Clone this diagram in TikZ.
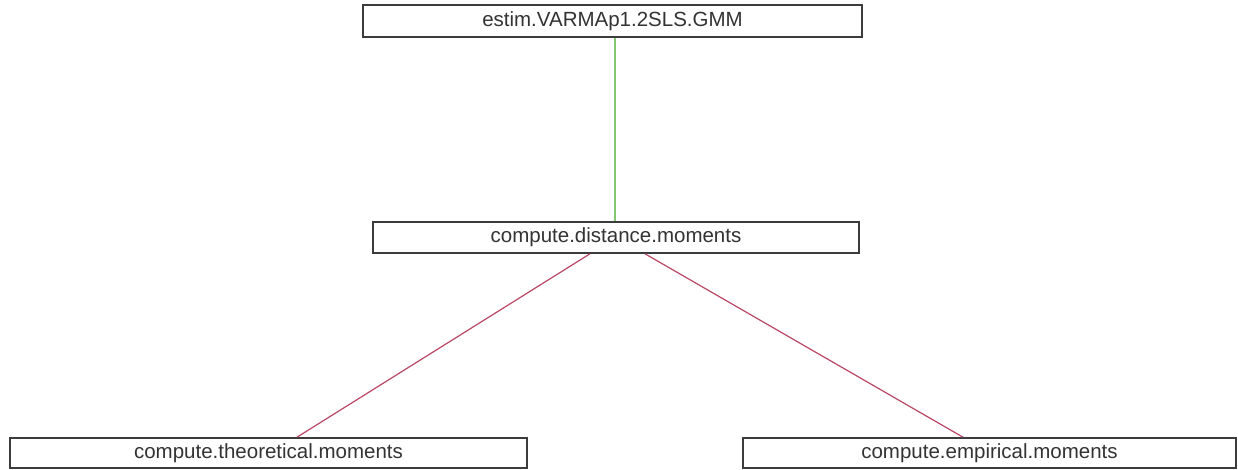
\documentclass[tikz,border=0pt]{standalone}
\usepackage{fontspec}
\setmainfont{Liberation Sans}
\usetikzlibrary{calc}
\definecolor{boxline}{RGB}{60,60,60}
\definecolor{greenline}{RGB}{130,200,110}
\definecolor{pinkline}{RGB}{185,70,100}
\begin{document}
\begin{tikzpicture}[x=1pt,y=1pt,
  fbox/.style={draw=boxline,line width=1.6pt,fill=white,inner sep=0pt,
    font=\fontsize{20.5}{24}\selectfont,text=black!80},
  glink/.style={draw=greenline,line width=1.2pt},
  plink/.style={draw=pinkline,line width=1.2pt}]
\useasboundingbox (0,0) rectangle (1238,469);
\node[fbox,minimum width=499pt,minimum height=32pt] (top) at (612.5,448) {estim.VARMAp1.2SLS.GMM};
\node[fbox,minimum width=486pt,minimum height=31pt] (mid) at (616,231.5) {compute.distance.moments};
\node[fbox,minimum width=517pt,minimum height=30pt] (bl) at (268.5,16) {compute.theoretical.moments};
\node[fbox,minimum width=493pt,minimum height=30pt] (br) at (989.5,16) {compute.empirical.moments};
\draw[glink] ([xshift=2.5pt]top.south) -- ([xshift=-1pt]mid.north);
\draw[plink] ([xshift=-26pt]mid.south) -- ([xshift=28.5pt]bl.north);
\draw[plink] ([xshift=29pt]mid.south) -- ([xshift=-26.5pt]br.north);
\end{tikzpicture}
\end{document}
